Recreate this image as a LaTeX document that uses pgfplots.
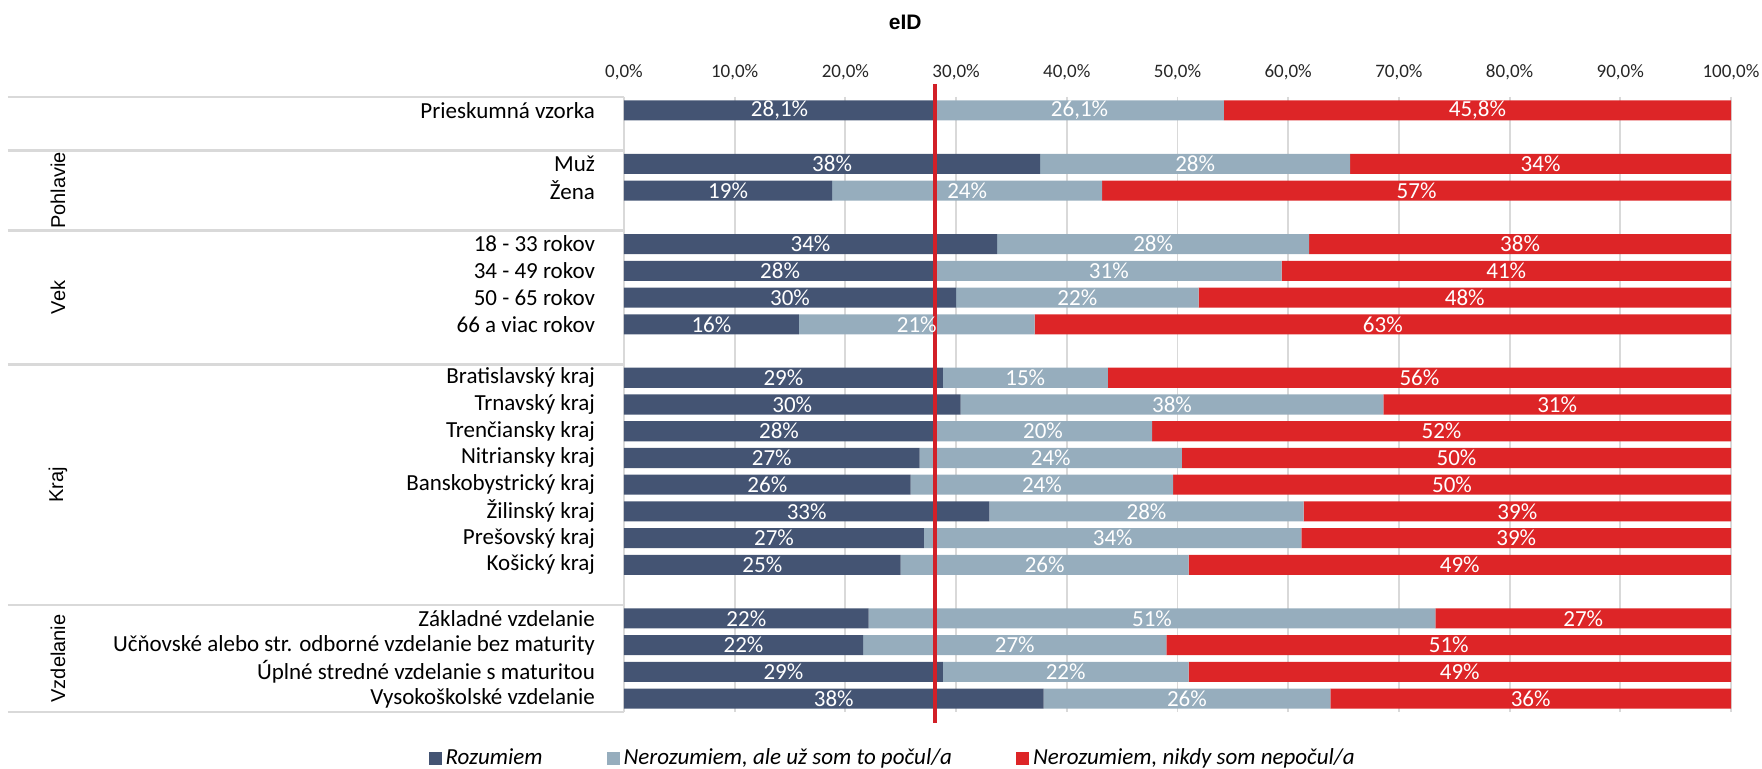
\documentclass[border=0pt]{standalone}
\usepackage{fontspec}
\setmainfont{Carlito}
\newfontfamily\arialfont{Liberation Sans}
\usepackage{pgfplots}
\usepackage{pgfplotstable}
\pgfplotsset{compat=1.18}
\definecolor{cDark}{RGB}{68,84,115}
\definecolor{cLight}{RGB}{150,173,189}
\definecolor{cRed}{RGB}{221,37,39}
\definecolor{cLine}{RGB}{210,32,40}
\definecolor{cGrid}{RGB}{217,217,217}

\pgfplotstableread{
row a b c la lb lc
0 28.1 26.1 45.8 {28,1} {26,1} {45,8}
2 37.6 28.0 34.4 38 28 34
3 18.8 24.4 56.8 19 24 57
5 33.7 28.2 38.1 34 28 38
6 28.2 31.2 40.6 28 31 41
7 30.0 21.9 48.1 30 22 48
8 15.8 21.3 62.9 16 21 63
10 28.8 14.9 56.3 29 15 56
11 30.4 38.2 31.4 30 38 31
12 28.0 19.7 52.3 28 20 52
13 26.7 23.7 49.6 27 24 50
14 25.9 23.7 50.4 26 24 50
15 33.0 28.4 38.6 33 28 39
16 27.1 34.1 38.8 27 34 39
17 25.0 26.0 49.0 25 26 49
19 22.1 51.2 26.7 22 51 27
20 21.6 27.4 51.0 22 27 51
21 28.8 22.2 49.0 29 22 49
22 37.9 25.9 36.2 38 26 36
}\datatable

\begin{document}
\begin{tikzpicture}
\useasboundingbox (-312pt,-28.5pt) rectangle (569pt,356pt);
\pgfplotsset{
  common/.style={
    at={(0,0)}, anchor=south west,
    scale only axis, width=553.5pt, height=307.5pt,
    xmin=0, xmax=100, ymin=-0.5, ymax=22.5, y dir=reverse,
  }
}
\begin{axis}[
  common,
  xbar stacked,
  bar width=0.75,
  axis line style={draw=none},
  tick style={draw=none},
  xtick={0,10,...,100},
  xticklabels={{0,0\%},{10,0\%},{20,0\%},{30,0\%},{40,0\%},{50,0\%},{60,0\%},{70,0\%},{80,0\%},{90,0\%},{100,0\%}},
  xticklabel pos=right,
  xticklabel style={font=\fontsize{9.5}{11}\selectfont, text=black!85, anchor=base, yshift=9.75pt},
  xmajorgrids, grid style={cGrid, line width=0.9pt},
  ytick={0,2,3,5,6,7,8,10,11,12,13,14,15,16,17,19,20,21,22},
  yticklabels={Prieskumná vzorka,Muž,Žena,18 - 33 rokov,34 - 49 rokov,50 - 65 rokov,66 a viac rokov,Bratislavský kraj,Trnavský kraj,Trenčiansky kraj,Nitriansky kraj,Banskobystrický kraj,Žilinský kraj,Prešovský kraj,Košický kraj,Základné vzdelanie,Učňovské alebo str. odborné vzdelanie bez maturity,Úplné stredné vzdelanie s maturitou,Vysokoškolské vzdelanie},
  yticklabel style={font=\fontsize{11.5}{13}\selectfont, anchor=east, xshift=-11pt},
  legend columns=3,
  legend style={at={(0.2436,-0.075)}, anchor=center, draw=none, fill=none,
    font=\fontsize{11.5}{13}\selectfont\itshape,
    /tikz/every odd column/.append style={column sep=0pt},
    /tikz/every even column/.append style={column sep=30pt}},
  legend image code/.code={\fill[#1] (0pt,-3.2pt) rectangle (6.5pt,3.2pt);},
]
\addplot[fill=cDark, draw=none] table[x=a, y=row] {\datatable};
\addplot[fill=cLight, draw=none] table[x=b, y=row] {\datatable};
\addplot[fill=cRed, draw=none] table[x=c, y=row] {\datatable};
\legend{Rozumiem, {Nerozumiem, ale už som to počul/a}, {Nerozumiem, nikdy som nepočul/a}}
\end{axis}
\begin{axis}[
  common, hide axis, clip=false,
  every node near coord/.style={anchor=center, text=white, font=\fontsize{11.5}{13}\selectfont},
]
% separators in the label area
\addplot[cGrid, line width=1.2pt] coordinates {(-55.65,-0.5) (0,-0.5)};
\addplot[cGrid, line width=1.2pt] coordinates {(-55.65,1.5) (0,1.5)};
\addplot[cGrid, line width=1.2pt] coordinates {(-55.65,4.5) (0,4.5)};
\addplot[cGrid, line width=1.2pt] coordinates {(-55.65,9.5) (0,9.5)};
\addplot[cGrid, line width=1.2pt] coordinates {(-55.65,18.5) (0,18.5)};
\addplot[cGrid, line width=1.2pt] coordinates {(-55.65,22.5) (0,22.5)};
% bar labels
\addplot[draw=none, mark=none, nodes near coords={\pgfplotspointmeta\%}, point meta=explicit symbolic]
  table[x expr=\thisrow{a}/2, y=row, meta=la] {\datatable};
\addplot[draw=none, mark=none, nodes near coords={\pgfplotspointmeta\%}, point meta=explicit symbolic]
  table[x expr=\thisrow{a}+\thisrow{b}/2, y=row, meta=lb] {\datatable};
\addplot[draw=none, mark=none, nodes near coords={\pgfplotspointmeta\%}, point meta=explicit symbolic]
  table[x expr=\thisrow{a}+\thisrow{b}+\thisrow{c}/2, y=row, meta=lc] {\datatable};
% reference line (overall share)
\addplot[cLine, line width=2pt] coordinates {(28.1,-0.99) (28.1,22.92)};
% group labels
\node[rotate=90, font=\arialfont\fontsize{10}{12}\selectfont] at ([xshift=-283pt]axis cs:0,3) {Pohlavie};
\node[rotate=90, font=\arialfont\fontsize{10}{12}\selectfont] at ([xshift=-283pt]axis cs:0,7) {Vek};
\node[rotate=90, font=\arialfont\fontsize{10}{12}\selectfont] at ([xshift=-283pt]axis cs:0,14) {Kraj};
\node[rotate=90, font=\arialfont\fontsize{10}{12}\selectfont] at ([xshift=-283pt]axis cs:0,20.5) {Vzdelanie};
% title
\node[font=\arialfont\bfseries\fontsize{10.5}{12}\selectfont] at ([yshift=37.5pt]axis cs:25.4,-0.5) {eID};
\end{axis}
\end{tikzpicture}
\end{document}
